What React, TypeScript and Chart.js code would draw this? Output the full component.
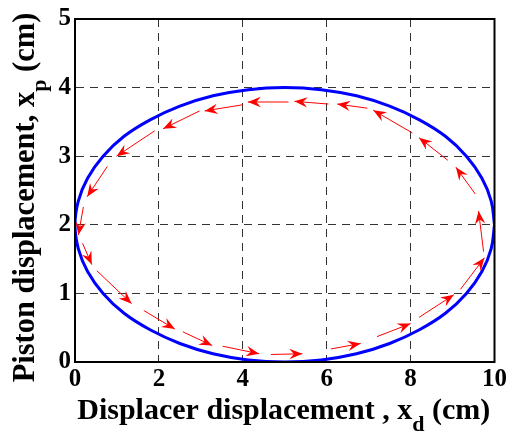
import React, { useEffect, useRef } from "react";
import { Chart, registerables } from "chart.js";

Chart.register(...registerables);

// Blue closed curve
const ellipseX = [10, 9.92, 9.7, 9.33, 8.83, 8.21, 7.5, 6.71, 5.87, 5, 4.13, 3.29, 2.5, 1.79, 1.17, 0.67, 0.3, 0.08, 0, 0.08, 0.3, 0.67, 1.17, 1.79, 2.5, 3.29, 4.13, 5, 5.87, 6.71, 7.5, 8.21, 8.83, 9.33, 9.7, 9.92, 10];
const ellipseY = [2, 2.35, 2.68, 3.0, 3.29, 3.53, 3.73, 3.88, 3.97, 4, 3.97, 3.88, 3.73, 3.53, 3.29, 3.0, 2.68, 2.35, 2, 1.65, 1.32, 1.0, 0.71, 0.47, 0.27, 0.12, 0.03, 0, 0.03, 0.12, 0.27, 0.47, 0.71, 1.0, 1.32, 1.65, 2];

// Red arrows: tail and head positions
const arrowTailX = [4.67, 6.10, 7.20, 8.20, 9.19, 9.74, 9.54, 8.89, 8.04, 6.97, 6.04, 5.09, 4.00, 2.97, 1.90, 0.77, 0.20, 0.18, 0.52, 1.64, 2.57, 3.52];
const arrowTailY = [0.11, 0.19, 0.37, 0.65, 1.06, 1.61, 2.45, 2.94, 3.34, 3.70, 3.76, 3.79, 3.75, 3.66, 3.37, 2.85, 2.26, 1.73, 1.33, 0.75, 0.44, 0.23];
const arrowHeadX = [5.42, 6.81, 8.00, 9.03, 9.76, 9.62, 9.08, 8.20, 7.11, 6.25, 5.23, 4.12, 3.09, 2.10, 0.99, 0.29, 0.08, 0.40, 1.35, 2.38, 3.27, 4.39];
const arrowHeadY = [0.12, 0.27, 0.56, 0.98, 1.52, 2.20, 2.84, 3.27, 3.67, 3.76, 3.80, 3.79, 3.66, 3.40, 3.00, 2.41, 1.85, 1.42, 0.85, 0.48, 0.24, 0.12];

const xTicks = [0, 2, 4, 6, 8, 10];
const yTicks = [0, 1, 2, 3, 4, 5];

const FONT = "'Liberation Serif', 'Times New Roman', serif";

const arrowHeadsPlugin = {
  id: "arrowHeads",
  afterDatasetsDraw(chart: any) {
    const { ctx, scales } = chart;
    const sx = scales.x;
    const sy = scales.y;
    ctx.save();
    ctx.fillStyle = "#FF0000";
    for (let i = 0; i < arrowHeadX.length; i++) {
      const x1 = sx.getPixelForValue(arrowTailX[i]);
      const y1 = sy.getPixelForValue(arrowTailY[i]);
      const x2 = sx.getPixelForValue(arrowHeadX[i]);
      const y2 = sy.getPixelForValue(arrowHeadY[i]);
      const a = Math.atan2(y2 - y1, x2 - x1);
      const c = Math.cos(a);
      const s = Math.sin(a);
      const L = 13;
      const W = 5.2;
      const N = 8.5;
      ctx.beginPath();
      ctx.moveTo(x2, y2);
      ctx.lineTo(x2 - L * c + W * s, y2 - L * s - W * c);
      ctx.lineTo(x2 - N * c, y2 - N * s);
      ctx.lineTo(x2 - L * c - W * s, y2 - L * s + W * c);
      ctx.closePath();
      ctx.fill();
    }
    ctx.restore();
  },
};

function drawSubTitle(ctx: CanvasRenderingContext2D, parts: [string, string, string], cx: number, baseline: number, size: number) {
  const mainFont = `bold ${size}px ${FONT}`;
  const subFont = `bold 22px ${FONT}`;
  ctx.font = mainFont;
  const w1 = ctx.measureText(parts[0]).width;
  const w3 = ctx.measureText(parts[2]).width;
  ctx.font = subFont;
  const w2 = ctx.measureText(parts[1]).width;
  const total = w1 + w2 + w3;
  let x = cx - total / 2;
  ctx.textAlign = "left";
  ctx.textBaseline = "alphabetic";
  ctx.fillStyle = "#000";
  ctx.font = mainFont;
  ctx.fillText(parts[0], x, baseline);
  x += w1;
  ctx.font = subFont;
  ctx.fillText(parts[1], x, baseline + 12);
  x += w2;
  ctx.font = mainFont;
  ctx.fillText(parts[2], x, baseline);
}

const framePlugin = {
  id: "frameAndTitles",
  afterDraw(chart: any) {
    const { ctx, chartArea } = chart;
    ctx.save();
    ctx.strokeStyle = "#000";
    ctx.lineWidth = 2;
    ctx.strokeRect(chartArea.left, chartArea.top, chartArea.right - chartArea.left, chartArea.bottom - chartArea.top);
    drawSubTitle(ctx, ["Displacer displacement , x", "d", " (cm)"], (chartArea.left + chartArea.right) / 2 - 1, 419, 30);
    ctx.save();
    ctx.translate(34, (chartArea.top + chartArea.bottom) / 2 + 7);
    ctx.rotate(-Math.PI / 2);
    drawSubTitle(ctx, ["Piston displacement, x", "p", " (cm)"], 0, 0, 30.5);
    ctx.restore();
    ctx.restore();
  },
};

export default function App() {
  const ref = useRef<HTMLCanvasElement | null>(null);

  useEffect(() => {
    if (!ref.current) return;
    const ellipseData = ellipseX.map((x, i) => ({ x, y: ellipseY[i] }));
    const shaftSets = arrowTailX.map((_, i) => ({
      data: [
        { x: arrowTailX[i], y: arrowTailY[i] },
        { x: arrowHeadX[i], y: arrowHeadY[i] },
      ],
      showLine: true,
      borderColor: "#FF0000",
      borderWidth: 1,
      pointRadius: 0,
      tension: 0,
      fill: false,
    }));

    const tickFont = { family: FONT, size: 25, weight: "bold" as const };

    const chart = new Chart(ref.current, {
      type: "scatter",
      data: {
        datasets: [
          {
            data: ellipseData,
            showLine: true,
            borderColor: "#0000FF",
            borderWidth: 3,
            pointRadius: 0,
            tension: 0.4,
            fill: false,
          },
          ...shaftSets,
        ],
      },
      options: {
        animation: false,
        responsive: false,
        events: [],
        layout: { padding: { left: 0, top: 15, right: 14, bottom: 0 } },
        plugins: {
          legend: { display: false },
          tooltip: { enabled: false },
        },
        scales: {
          x: {
            type: "linear",
            min: 0,
            max: 10,
            afterBuildTicks: (s: any) => {
              s.ticks = xTicks.map((v) => ({ value: v }));
            },
            afterFit: (s: any) => {
              s.height = 70;
            },
            ticks: { font: tickFont, color: "#000", padding: 3, maxRotation: 0 },
            grid: { color: "#333", lineWidth: 1, drawTicks: false },
            border: { display: true, color: "#000", width: 2, dash: [8, 6] },
          },
          y: {
            type: "linear",
            min: 0,
            max: 5,
            afterBuildTicks: (s: any) => {
              s.ticks = yTicks.map((v) => ({ value: v }));
            },
            afterFit: (s: any) => {
              s.width = 75;
            },
            ticks: { font: tickFont, color: "#000", padding: 4 },
            grid: { color: "#333", lineWidth: 1, drawTicks: false },
            border: { display: true, color: "#000", width: 2, dash: [8, 6] },
          },
        },
      },
      plugins: [arrowHeadsPlugin, framePlugin],
    });
    return () => chart.destroy();
  }, []);

  return (
    <div style={{ position: "absolute", left: 0, top: 0, width: 510, height: 432, background: "#fff" }}>
      <canvas ref={ref} width={510} height={432} style={{ width: 510, height: 432 }} />
    </div>
  );
}
